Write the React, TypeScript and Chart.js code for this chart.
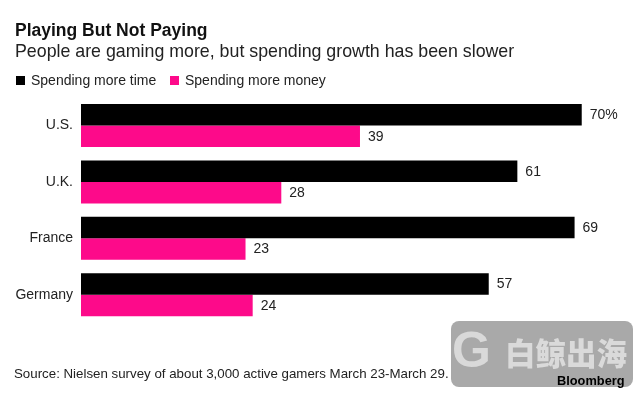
import React, { useEffect, useRef } from "react";
import { Chart, registerables } from "chart.js";

Chart.register(...registerables);

const categories = ["U.S.", "U.K.", "France", "Germany"];
const timeValues = [70, 61, 69, 57];
const moneyValues = [39, 28, 23, 24];
const seriesNames = ["Spending more time", "Spending more money"];
const seriesColors = ["#000000", "#fd0a8a"];
const title = "Playing But Not Paying";
const subtitle = "People are gaming more, but spending growth has been slower";
const source = "Source: Nielsen survey of about 3,000 active gamers March 23-March 29.";

const FONT = "'Liberation Sans', Arial, sans-serif";

const valueLabels = {
  id: "valueLabels",
  afterDatasetsDraw(chart: any) {
    const ctx = chart.ctx;
    ctx.save();
    ctx.font = `14px ${FONT}`;
    ctx.fillStyle = "#222";
    ctx.textAlign = "left";
    ctx.textBaseline = "middle";
    chart.data.datasets.forEach((ds: any, di: number) => {
      const meta = chart.getDatasetMeta(di);
      meta.data.forEach((el: any, i: number) => {
        const v = ds.data[i];
        const txt = di === 0 && i === 0 ? `${v}%` : `${v}`;
        ctx.fillText(txt, el.x + 8, el.y + 0.5);
      });
    });
    ctx.restore();
  },
};

export default function App() {
  const ref = useRef<HTMLCanvasElement | null>(null);
  useEffect(() => {
    if (!ref.current) return;
    const chart = new Chart(ref.current, {
      type: "bar",
      data: {
        labels: categories,
        datasets: [
          {
            label: seriesNames[0],
            data: timeValues,
            backgroundColor: seriesColors[0],
            categoryPercentage: 0.762,
            barPercentage: 1,
          },
          {
            label: seriesNames[1],
            data: moneyValues,
            backgroundColor: seriesColors[1],
            categoryPercentage: 0.762,
            barPercentage: 1,
          },
        ],
      },
      options: {
        indexAxis: "y",
        animation: false,
        responsive: false,
        layout: { padding: { top: 97.3, bottom: 71.1, right: 22.5, left: 0 } },
        plugins: { legend: { display: false }, tooltip: { enabled: false } },
        scales: {
          x: { display: false, min: 0, max: 75 },
          y: {
            grid: { display: false, drawTicks: false, tickLength: 0 },
            border: { display: false },
            ticks: {
              color: "#222",
              font: { family: FONT, size: 14 },
              padding: 8,
            },
            afterFit(scale: any) {
              scale.width = 81;
            },
          },
        },
      },
      plugins: [valueLabels],
    } as any);
    return () => chart.destroy();
  }, []);

  const abs = (s: React.CSSProperties): React.CSSProperties => ({
    position: "absolute",
    margin: 0,
    whiteSpace: "nowrap",
    fontFamily: FONT,
    ...s,
  });

  return (
    <div
      style={{
        position: "fixed",
        left: 0,
        top: 0,
        width: 640,
        height: 394,
        background: "#fff",
        overflow: "hidden",
      }}
    >
      <canvas ref={ref} width={640} height={394} style={{ position: "absolute", left: 0, top: 0, width: 640, height: 394 }} />
      <div style={abs({ left: 15, top: 20, fontSize: 17.5, lineHeight: "20px", fontWeight: 700, color: "#111" })}>{title}</div>
      <div style={abs({ left: 15, top: 41.1, fontSize: 17.8, lineHeight: "20px", color: "#222" })}>{subtitle}</div>
      <div style={abs({ left: 16, top: 76, width: 9, height: 9, background: seriesColors[0] })} />
      <div style={abs({ left: 31, top: 72.2, fontSize: 14, lineHeight: "16px", color: "#222" })}>{seriesNames[0]}</div>
      <div style={abs({ left: 170, top: 76, width: 9, height: 9, background: seriesColors[1] })} />
      <div style={abs({ left: 185, top: 72.2, fontSize: 14, lineHeight: "16px", color: "#222" })}>{seriesNames[1]}</div>
      <div style={abs({ left: 14, top: 366, fontSize: 13.3, lineHeight: "16px", color: "#222" })}>{source}</div>
      <div style={abs({ left: 451, top: 321, width: 182, height: 66, background: "#a9a9a9", borderRadius: 8 })} />
      <div style={abs({ left: 452, top: 322, fontSize: 50, lineHeight: "56px", fontWeight: 700, color: "#d9d9d9" })}>G</div>
      <div
        style={abs({
          left: 505,
          top: 334,
          fontSize: 30.5,
          lineHeight: "36px",
          fontWeight: 900,
          color: "#dadada",
          fontFamily: "'Noto Sans CJK SC', sans-serif",
        })}
      >
        白鲸出海
      </div>
      <div style={abs({ left: 557, top: 373, fontSize: 12.8, lineHeight: "16px", fontWeight: 700, color: "#000" })}>Bloomberg</div>
    </div>
  );
}
